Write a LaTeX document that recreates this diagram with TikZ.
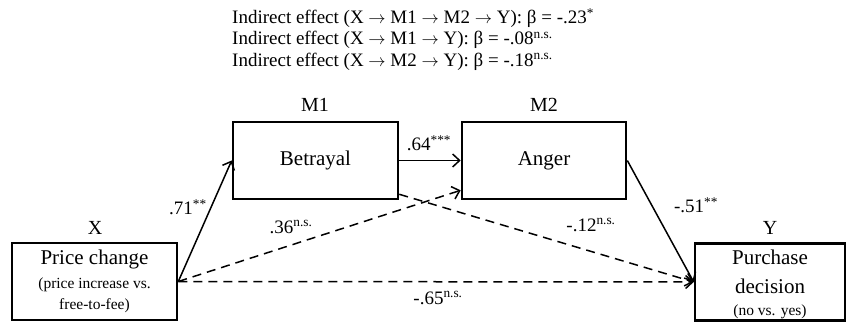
\documentclass[tikz,border=0pt]{standalone}
\usepackage{fontspec}
\setmainfont{Liberation Serif}
\usetikzlibrary{arrows.meta}
\newcommand{\fsz}[1]{\fontsize{#1}{#1}\selectfont}
\newcommand{\sig}[1]{\textsuperscript{#1}}
\newcommand{\ar}{$\rightarrow$}
\tikzset{
  varbox/.style={draw, line width=2.6pt, inner sep=0pt, align=center, minimum height=77pt},
  boxtext/.style={inner sep=0pt, align=center},
  lineA/.style={inner sep=0pt, anchor=base, font=\fsz{21}},
  lineB/.style={inner sep=0pt, anchor=base, font=\fsz{15.5}},
  varlbl/.style={font=\fsz{20}, inner sep=0pt},
  coef/.style={font=\fsz{19}, inner sep=0pt},
  ietext/.style={anchor=west, inner sep=0pt, font=\fsz{19}},
  path arrow/.style={line width=1.5pt, -{Straight Barb[length=7pt,width=13pt,line width=1.5pt]}},
  ns arrow/.style={path arrow, dash pattern=on 9pt off 6pt},
}
\begin{document}
\begin{tikzpicture}[x=1pt,y=-1pt]
\useasboundingbox (0,0) rectangle (849,323);

% indirect effects
\node[ietext] (ie1) at (232,18) {Indirect effect (X \ar{} M1 \ar{} M2 \ar{} Y): β = -.23\sig{*}};
\node[ietext] (ie2) at (232,39.7) {Indirect effect (X \ar{} M1 \ar{} Y): β = -.08\sig{n.s.}};
\node[ietext] (ie3) at (232,61.4) {Indirect effect (X \ar{} M2 \ar{} Y): β = -.18\sig{n.s.}};

% boxes
\node[varbox, minimum width=165pt] (X) at (94.5,281.5) {};
\node[boxtext] (xtxt) at (94.5,281.5)
  {\fsz{21}Price change\\[7pt]\fsz{15.5}(price increase vs.\\[6pt]\fsz{15.5}free-to-fee)};
\node[varbox, minimum width=150pt] (Y) at (770,282) {};
\node[lineA] (y1) at (770,265) {Purchase};
\node[lineA] (y2) at (770,294) {decision};
\node[lineB] (y3) at (770,315) {(no vs. yes)};
\node[varbox, minimum width=165pt, font=\fsz{21}] (M1) at (315.5,160.5) {Betrayal};
\node[varbox, minimum width=164pt, font=\fsz{21}] (M2) at (544,160.5) {Anger};

% variable labels
\node[varlbl] (lx) at (95,228) {X};
\node[varlbl] (ly) at (770,228) {Y};
\node[varlbl] (lm1) at (315,105) {M1};
\node[varlbl] (lm2) at (544,105) {M2};

% paths
\draw[path arrow] (X.east) -- (M1.west);
\draw[path arrow] (M1.east) -- (M2.west);
\draw[path arrow] (M2.east) -- (Y.west);
\draw[ns arrow] (X.east) -- ([yshift=10pt]M2.south west);
\draw[ns arrow] ([yshift=6pt]M1.south east) -- (Y.west);
\draw[ns arrow] (X.east) -- (Y.west);

% coefficients
\node[coef] (c1) at (188,207) {.71\sig{**}};
\node[coef] (c2) at (429,143) {.64\sig{***}};
\node[coef] (c3) at (696,205) {-.51\sig{**}};
\node[coef] (c4) at (291,227) {.36\sig{n.s.}};
\node[coef] (c5) at (591,225) {-.12\sig{n.s.}};
\node[coef] (c6) at (438,298) {-.65\sig{n.s.}};
\end{tikzpicture}
\end{document}
